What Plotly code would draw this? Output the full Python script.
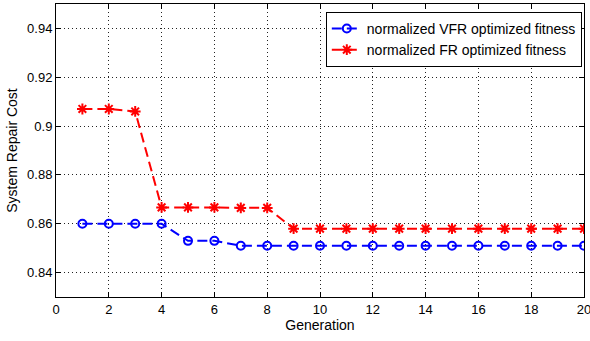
import plotly.graph_objects as go

generations = list(range(1, 21))
vfr_fitness = [0.860, 0.860, 0.860, 0.860, 0.853, 0.853, 0.851, 0.851, 0.851, 0.851,
               0.851, 0.851, 0.851, 0.851, 0.851, 0.851, 0.851, 0.851, 0.851, 0.851]
fr_fitness = [0.907, 0.907, 0.906, 0.8667, 0.8667, 0.8667, 0.8665, 0.8665, 0.858, 0.858,
              0.858, 0.858, 0.858, 0.858, 0.858, 0.858, 0.858, 0.858, 0.858, 0.858]
x_ticks = list(range(0, 21, 2))
y_ticks = [0.84, 0.86, 0.88, 0.90, 0.92, 0.94]
y_tick_text = ["0.84", "0.86", "0.88", "0.9", "0.92", "0.94"]

FONT = "Liberation Sans, Arial"

fig = go.Figure()
fig.add_trace(go.Scatter(
    x=generations, y=vfr_fitness, mode="lines+markers",
    name="normalized VFR optimized fitness",
    line=dict(color="#0000ff", width=2, dash="10px,5px"),
    marker=dict(symbol="circle-open", size=8, color="#0000ff", line=dict(width=2)),
))
fig.add_trace(go.Scatter(
    x=generations, y=fr_fitness, mode="lines+markers",
    name="normalized FR optimized fitness",
    line=dict(color="#ff0000", width=2, dash="10px,5px"),
    marker=dict(symbol="asterisk-open", size=9, color="#ff0000", line=dict(width=2, color="#ff0000")),
))

axis_common = dict(
    showline=True, linecolor="black", linewidth=1, mirror="ticks",
    ticks="inside", ticklen=5, tickcolor="black",
    showgrid=True, gridcolor="#222222", griddash="1px,3px", gridwidth=1,
    zeroline=False, automargin=False,
    tickfont=dict(family=FONT, size=13, color="black"),
)

fig.update_xaxes(range=[0, 20], tickvals=x_ticks, ticklabeloverflow="allow",
                 title=dict(text="Generation", font=dict(family=FONT, size=14, color="black"), standoff=4),
                 **axis_common)
fig.update_yaxes(range=[0.83, 0.95], tickvals=y_ticks, ticktext=y_tick_text,
                 title=dict(text="System Repair Cost", font=dict(family=FONT, size=14, color="black"), standoff=6),
                 **axis_common)

fig.update_layout(
    width=590, height=341,
    margin=dict(l=56, r=6, t=4, b=44),
    paper_bgcolor="white", plot_bgcolor="white",
    showlegend=True,
    legend=dict(
        x=0.511, y=0.973, xanchor="left", yanchor="top",
        bgcolor="white", bordercolor="black", borderwidth=1,
        font=dict(family=FONT, size=14, color="black"),
        tracegroupgap=0, itemwidth=30,
    ),
)

fig.write_html("out.html")
